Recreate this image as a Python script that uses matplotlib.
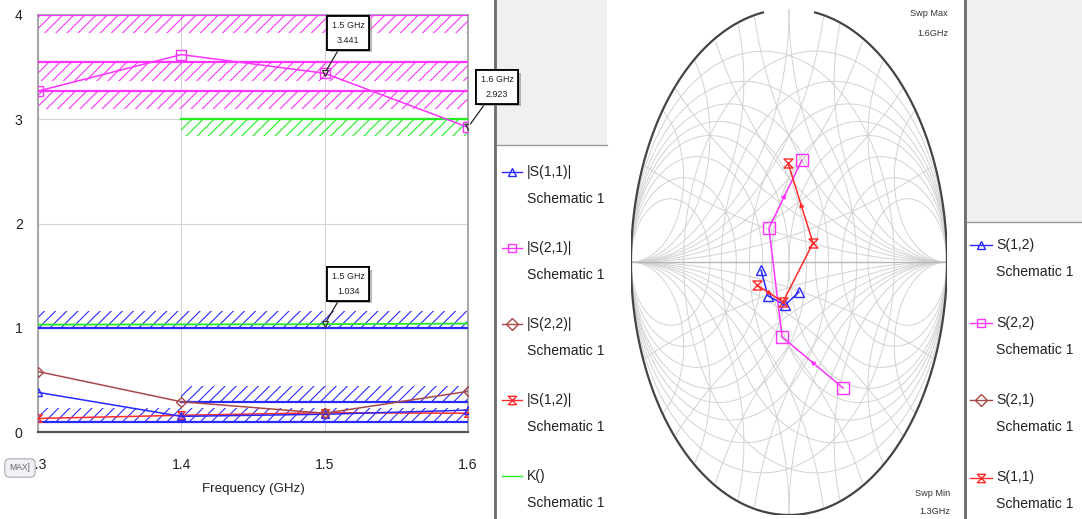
import numpy as np
import matplotlib
matplotlib.use('Agg')
import matplotlib.pyplot as plt
from matplotlib import font_manager
from matplotlib.path import Path
from matplotlib.patches import Rectangle
import matplotlib.patheffects as pe

# шрифт: узкий, если есть
names = {f.name for f in font_manager.fontManager.ttflist}
if 'Liberation Sans Narrow' in names:
    FONT, kfs = 'Liberation Sans Narrow', 1.0
else:
    FONT, kfs = 'Liberation Sans', 0.88
plt.rcParams['font.family'] = [FONT, 'DejaVu Sans']
plt.rcParams['hatch.linewidth'] = 0.8

# ---- данные: прямоугольный график ----
freq = [1.3, 1.4, 1.5, 1.6]                 # GHz
mag_s11 = [0.38, 0.15, 0.17, 0.21]
mag_s21 = [3.27, 3.62, 3.441, 2.923]
mag_s22 = [0.58, 0.29, 0.18, 0.39]
mag_s12 = [0.13, 0.16, 0.185, 0.18]
k_factor = [1.03, 1.032, 1.034, 1.04]

# цели оптимизации (штрихованные полосы)
goal_series = ['s21', 's21', 's21', 'k', 's11', 's11', 's11']
goal_f0 = [1.3, 1.3, 1.3, 1.4, 1.3, 1.4, 1.3]
goal_f1 = [1.6, 1.6, 1.6, 1.6, 1.6, 1.6, 1.6]
goal_level = [4.0, 3.55, 3.27, 3.0, 1.0, 0.29, 0.10]
goal_edge = [3.83, 3.37, 3.10, 2.84, 1.16, 0.44, 0.23]

# маркеры
mark_freq = [1.5, 1.6, 1.5]
mark_val = [3.441, 2.923, 1.034]

# ---- данные: диаграмма Смита (коэффициент отражения, Re/Im) ----
smith_s12 = [(-0.177, -0.032), (-0.133, -0.134), (-0.025, -0.170), (0.063, -0.119)]
smith_s22 = [(0.342, -0.498), (-0.044, -0.296), (-0.127, 0.134), (0.082, 0.403)]
smith_s21 = [(-2.1, 2.5), (-3.0, 2.0), (-3.2, 1.3), (-2.9, 0.4)]
smith_s11 = [(-0.203, -0.091), (-0.038, -0.158), (0.152, 0.075), (-0.006, 0.391)]
sweep_min, sweep_max = 1.3, 1.6

# ---- стили ----
BLUE, MAG, BROWN, RED, GREEN = '#2a2aff', '#ff33ff', '#a84848', '#ff2a2a', '#22ee22'
hourglass = Path([(-1, 1), (1, 1), (-1, -1), (1, -1), (-1, 1)],
                 [Path.MOVETO, Path.LINETO, Path.LINETO, Path.LINETO, Path.CLOSEPOLY])
style = {
    's11': dict(color=BLUE, marker='^'),
    's21': dict(color=MAG, marker='s'),
    's22': dict(color=BROWN, marker='D'),
    's12': dict(color=RED, marker=hourglass),
    'k': dict(color=GREEN, marker=None),
}

W, H = 1082, 519
fig = plt.figure(figsize=(W / 100, H / 100), dpi=100)

def box(x0, y0, x1, y1):
    return [x0 / W, 1 - y1 / H, (x1 - x0) / W, (y1 - y0) / H]

# подложка в пикселях: панели легенд
ax0 = fig.add_axes([0, 0, 1, 1])
ax0.set_xlim(0, W)
ax0.set_ylim(H, 0)
ax0.axis('off')

ax0.add_patch(Rectangle((497, 0), 110, 145, fc='#f0f0f0', ec='none'))
ax0.plot([497, 607], [145, 145], color='#9a9a9a', lw=1)
ax0.plot([495, 495], [0, H], color='#6a6a6a', lw=2)
ax0.add_patch(Rectangle((967, 0), 115, 222, fc='#f0f0f0', ec='none'))
ax0.plot([967, W], [222, 222], color='#9a9a9a', lw=1)
ax0.plot([965, 965], [0, H], color='#6a6a6a', lw=2)

leg_left = [('|S(1,1)|', 's11'), ('|S(2,1)|', 's21'), ('|S(2,2)|', 's22'),
            ('|S(1,2)|', 's12'), ('K()', 'k')]
for i, (lab, key) in enumerate(leg_left):
    y = 172 + i * 76
    st = style[key]
    ax0.plot([502, 522], [y, y], color=st['color'], lw=1)
    if st['marker'] is not None:
        ax0.plot([512], [y], marker=st['marker'], ms=6, mfc='none',
                 mec=st['color'], mew=1)
    ax0.text(527, y, lab, fontsize=11.5 * kfs, va='center', color='#222222')
    ax0.text(527, y + 27, 'Schematic 1', fontsize=11.5 * kfs, va='center', color='#222222')

leg_right = [('S(1,2)', 's11'), ('S(2,2)', 's21'), ('S(2,1)', 's22'), ('S(1,1)', 's12')]
for i, (lab, key) in enumerate(leg_right):
    y = 245 + i * 77.5
    st = style[key]
    ax0.plot([970, 992], [y, y], color=st['color'], lw=1)
    ax0.plot([981], [y], marker=st['marker'], ms=6, mfc='none',
             mec=st['color'], mew=1)
    ax0.text(996, y, lab, fontsize=11.5 * kfs, va='center', color='#222222')
    ax0.text(996, y + 27, 'Schematic 1', fontsize=11.5 * kfs, va='center', color='#222222')

ax0.text(948, 14, 'Swp Max', fontsize=7.5 * kfs, ha='right', va='center', color='#333333')
ax0.text(948, 33, '%.1fGHz' % sweep_max, fontsize=7.5 * kfs, ha='right', va='center', color='#333333')
ax0.text(950, 493, 'Swp Min', fontsize=7.5 * kfs, ha='right', va='center', color='#333333')
ax0.text(950, 511, '%.1fGHz' % sweep_min, fontsize=7.5 * kfs, ha='right', va='center', color='#333333')

# ---- прямоугольный график ----
ax = fig.add_axes(box(38, 15, 468, 432))
ax.set_xlim(1.3, 1.6)
ax.set_ylim(0, 4)
ax.set_xticks(freq)
ax.set_xticklabels(['%.1f' % f for f in freq])
ax.set_yticks([0, 1, 2, 3, 4])
ax.tick_params(length=0, labelsize=11.5 * kfs, colors='#222222')
ax.tick_params(axis='y', pad=11)
ax.tick_params(axis='x', pad=19)
ax.grid(True, color='#d4d4d4', lw=0.8)
ax.set_axisbelow(True)
for side in ['left', 'right', 'top']:
    ax.spines[side].set_color('#999999')
    ax.spines[side].set_linewidth(1.2)
ax.spines['bottom'].set_color('#555555')
ax.spines['bottom'].set_linewidth(1.6)
ax.set_xlabel('Frequency (GHz)', fontsize=11 * kfs, color='#222222')
ax.xaxis.set_label_coords(0.5, -0.122)

for key, f0, f1, lev, edge in zip(goal_series, goal_f0, goal_f1, goal_level, goal_edge):
    c = style[key]['color']
    ax.fill_between([f0, f1], [lev, lev], [edge, edge], facecolor='none',
                    edgecolor=c, hatch='///', lw=0, zorder=2)
    ax.plot([f0, f1], [lev, lev], color=c, lw=1.6, zorder=3)

series = {'s11': mag_s11, 's21': mag_s21, 's22': mag_s22, 's12': mag_s12}
ax.plot(freq, k_factor, color=GREEN, lw=1.3, zorder=4)
for key in ['s12', 's11', 's22', 's21']:
    st = style[key]
    ax.plot(freq, series[key], color=st['color'], lw=1.1, marker=st['marker'],
            ms=7 if key == 's21' else 5.5, mfc='none', mec=st['color'], mew=1, zorder=5)

ax.plot(mark_freq, mark_val, 'v', ms=5, mfc='none', mec='#333333', mew=0.9, zorder=6)
for f, v in zip(mark_freq, mark_val):
    dx = 21 if f == 1.6 else 17
    ann = ax.annotate('%g GHz\n%.3f' % (f, v), xy=(f, v), xytext=(dx, 29),
                      textcoords='offset points', ha='center', va='center',
                      fontsize=7.3 * kfs, linespacing=1.9, color='#222222',
                      bbox=dict(boxstyle='square,pad=0.5', fc='white', ec='black', lw=1.3),
                      arrowprops=dict(arrowstyle='-', color='#222222', lw=0.9,
                                      shrinkA=0, shrinkB=3),
                      annotation_clip=False, zorder=10)
    ann.get_bbox_patch().set_path_effects(
        [pe.withSimplePatchShadow(offset=(2, -2), shadow_rgbFace='#888888', alpha=0.6),
         pe.Normal()])

# ---- диаграмма Смита ----
sx = fig.add_axes(box(631, 9, 947, 515))
sx.set_xlim(-1, 1)
sx.set_ylim(-1, 1)
sx.axis('off')

theta = np.linspace(0, 2 * np.pi, 721)
grid_vals = [0.2, 0.4, 0.6, 0.8, 1.0, 1.4, 2.0, 3.0]
gkw = dict(color='#d2d2d2', lw=0.7, zorder=1)
for r in grid_vals:
    z = r / (1 + r) + np.exp(1j * theta) / (1 + r)
    sx.plot(z.real, z.imag, **gkw)
    sx.plot(-z.real, z.imag, **gkw)
for xv in grid_vals:
    for sgn in (1, -1):
        z = 1 + 1j * sgn / xv + np.exp(1j * theta) / xv
        z[np.abs(z) > 1.0005] = np.nan
        sx.plot(z.real, z.imag, **gkw)
        sx.plot(-z.real, z.imag, **gkw)
sx.plot([-1, 1], [0, 0], color='#b5b5b5', lw=1, zorder=1)

gap = 0.165
phi = np.linspace(np.arccos(-gap), 2 * np.pi + np.arccos(gap), 800)
sx.plot(np.cos(phi), np.sin(phi), color='#444444', lw=1.6, zorder=2)

smith = {'s11': smith_s12, 's21': smith_s22, 's22': smith_s21, 's12': smith_s11}
for key, pts in smith.items():
    st = style[key]
    xs = [p[0] for p in pts]
    ys = [p[1] for p in pts]
    sx.plot(xs, ys, color=st['color'], lw=1.1, marker=st['marker'],
            ms=8 if key == 's21' else 6.5, mfc='none', mec=st['color'], mew=1, zorder=5)
    if key in ('s21', 's12'):
        for i in (0, 2):
            p0 = np.array(pts[i]); p1 = np.array(pts[i + 1])
            mid = (p0 + p1) / 2
            d = (p1 - p0) / np.linalg.norm(p1 - p0) * 0.015
            sx.annotate('', xy=mid + d, xytext=mid - d,
                        arrowprops=dict(arrowstyle='-|>', color=st['color'],
                                        lw=0.8, mutation_scale=7), zorder=6)

# кнопка MAX поверх подписи оси
fig.text(20 / W, 1 - 468 / H, 'MAX]', ha='center', va='center', fontsize=7 * kfs,
         color='#666666', zorder=20,
         bbox=dict(boxstyle='round,pad=0.55', fc='#f1f1f5', ec='#a8a8b8', lw=0.8))

fig.savefig('out.png', dpi=100)
